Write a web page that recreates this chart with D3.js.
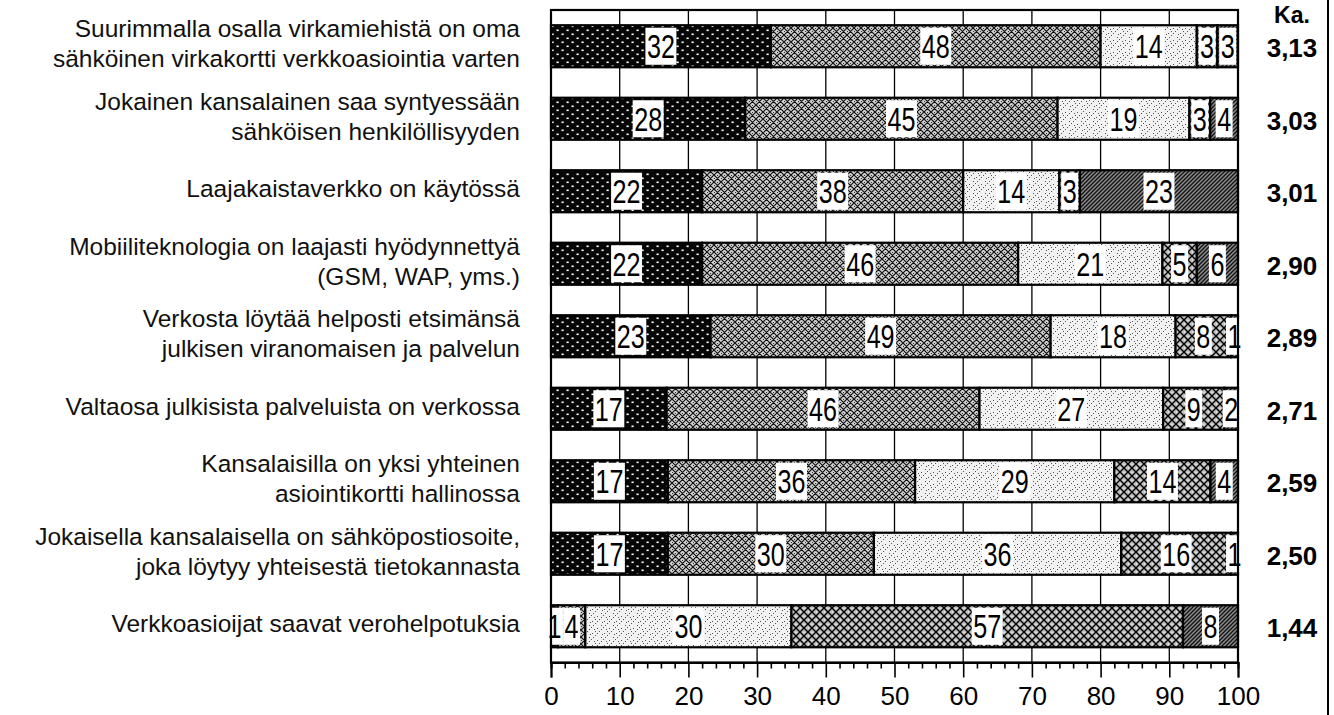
<!DOCTYPE html>
<html><head><meta charset="utf-8">
<script src="https://cdn.jsdelivr.net/npm/d3@7"></script>
<style>body{margin:0;background:#fff;} svg{display:block;}</style>
</head><body>
<svg id="chart" width="1334" height="715"></svg>
<script>
// ---- data ----
const statements = [
  ["Suurimmalla osalla virkamiehistä on oma", "sähköinen virkakortti verkkoasiointia varten"],
  ["Jokainen kansalainen saa syntyessään", "sähköisen henkilöllisyyden"],
  ["Laajakaistaverkko on käytössä"],
  ["Mobiiliteknologia on laajasti hyödynnettyä", "(GSM, WAP, yms.)"],
  ["Verkosta löytää helposti etsimänsä", "julkisen viranomaisen ja palvelun"],
  ["Valtaosa julkisista palveluista on verkossa"],
  ["Kansalaisilla on yksi yhteinen", "asiointikortti hallinossa"],
  ["Jokaisella kansalaisella on sähköpostiosoite,", "joka löytyy yhteisestä tietokannasta"],
  ["Verkkoasioijat saavat verohelpotuksia"]
];
const responseKeys = ["r1", "r2", "r3", "r4", "r5"];
const r1 = [32, 28, 22, 22, 23, 17, 17, 17, 1];
const r2 = [48, 45, 38, 46, 49, 46, 36, 30, 4];
const r3 = [14, 19, 14, 21, 18, 27, 29, 36, 30];
const r4 = [3, 3, 3, 5, 8, 9, 14, 16, 57];
const r5 = [3, 4, 23, 6, 1, 2, 4, 1, 8];
const means = ["3,13", "3,03", "3,01", "2,90", "2,89", "2,71", "2,59", "2,50", "1,44"];
const meanHeader = "Ka.";
const majorTicks = [0, 10, 20, 30, 40, 50, 60, 70, 80, 90, 100];
const minorTicks = [2, 4, 6, 8, 12, 14, 16, 18, 22, 24, 26, 28, 32, 34, 36, 38, 42, 44, 46, 48,
  52, 54, 56, 58, 62, 64, 66, 68, 72, 74, 76, 78, 82, 84, 86, 88, 92, 94, 96, 98];

const series = {r1, r2, r3, r4, r5};
const rows = statements.map((s, i) => {
  const o = {id: i};
  responseKeys.forEach(k => o[k] = series[k][i]);
  return o;
});

// ---- layout ----
const W = 1334, H = 715;
const plot = {left: 551, right: 1238, top: 10, bottom: 662.5};
const FONT = "'Liberation Sans', Arial, sans-serif";
const svg = d3.select("#chart");
svg.append("rect").attr("width", W).attr("height", H).attr("fill", "#fff");

// ---- patterns ----
const defs = svg.append("defs");
function pat(id, w, h) {
  return defs.append("pattern").attr("id", id).attr("patternUnits", "userSpaceOnUse")
    .attr("width", w).attr("height", h);
}
// p1: black with white dots
let p = pat("p1", 10, 8);
p.append("rect").attr("width", 10).attr("height", 8).attr("fill", "#050505");
p.append("rect").attr("x", 1.5).attr("y", 1.5).attr("width", 2.2).attr("height", 1.6).attr("fill", "#fff");
p.append("rect").attr("x", 6.5).attr("y", 5.5).attr("width", 2.2).attr("height", 1.6).attr("fill", "#fff");
// p2: medium crosshatch
p = pat("p2", 7, 7);
p.append("rect").attr("width", 7).attr("height", 7).attr("fill", "#cfcfcf");
p.append("path").attr("d", "M0,0L7,7M7,0L0,7M-1,6L1,8M6,-1L8,1M-1,1L1,-1M6,8L8,6")
  .attr("stroke", "#111").attr("stroke-width", 1.2);
p.append("rect").attr("x", 3).attr("y", 0).attr("width", 1).attr("height", 1).attr("fill", "#333");
p.append("rect").attr("x", 0).attr("y", 3).attr("width", 1).attr("height", 1).attr("fill", "#333");
// p3: light speckle
p = pat("p3", 12, 12);
p.append("rect").attr("width", 12).attr("height", 12).attr("fill", "#f2f2f2");
[[1,1],[3,3],[1,5],[5,1],[7,7],[9,9],[7,11],[11,7],[4,9],[9,4],[6,5],[2,10]].forEach(([cx, cy]) =>
  p.append("rect").attr("x", cx).attr("y", cy).attr("width", 1).attr("height", 1).attr("fill", "#555"));
// p4: bolder crosshatch
p = pat("p4", 8, 8);
p.append("rect").attr("width", 8).attr("height", 8).attr("fill", "#c0c0c0");
p.append("path").attr("d", "M0,0L8,8M8,0L0,8")
  .attr("stroke", "#000").attr("stroke-width", 1.4);
p.append("rect").attr("x", 3.5).attr("y", 0).attr("width", 1).attr("height", 1).attr("fill", "#fff");
p.append("rect").attr("x", 0).attr("y", 3.5).attr("width", 1).attr("height", 1).attr("fill", "#fff");
// p5: dark diagonal hatch
p = pat("p5", 4, 4);
p.append("rect").attr("width", 4).attr("height", 4).attr("fill", "#8a8a8a");
p.append("path").attr("d", "M-1,5L5,-1M-1,1L1,-1M3,5L5,3")
  .attr("stroke", "#111").attr("stroke-width", 1.3);

const fills = {r1: "url(#p1)", r2: "url(#p2)", r3: "url(#p3)", r4: "url(#p4)", r5: "url(#p5)"};

// ---- scales ----
const y = d3.scaleBand().domain(rows.map(d => d.id)).range([plot.top, plot.bottom])
  .paddingInner(0.42).paddingOuter(0.21);
const xFrac = d3.scaleLinear().domain([0, 1]).range([plot.left, plot.right]);
const xPct = d3.scaleLinear().domain([0, 100]).range([plot.left, plot.right]);
const bw = y.bandwidth();

// ---- gridlines ----
svg.append("g").selectAll("line").data(majorTicks).join("line")
  .attr("x1", d => xPct(d)).attr("x2", d => xPct(d))
  .attr("y1", plot.top).attr("y2", plot.bottom)
  .attr("stroke", "#000").attr("stroke-width", 1.3);

// ---- bars ----
const stacked = d3.stack().keys(responseKeys).offset(d3.stackOffsetExpand)(rows);
const gBars = svg.append("g");
stacked.forEach(layer => {
  gBars.append("g").selectAll("rect").data(layer).join("rect")
    .attr("x", d => xFrac(d[0])).attr("width", d => xFrac(d[1]) - xFrac(d[0]))
    .attr("y", d => y(d.data.id)).attr("height", bw)
    .attr("fill", fills[layer.key]).attr("stroke", "#000").attr("stroke-width", 2.2);
});

// ---- value labels ----
const gLab = svg.append("g");
const sx = 0.74, fs = 34;
stacked.forEach(layer => {
  layer.forEach(d => {
    const v = d.data[layer.key];
    const cx = xFrac((d[0] + d[1]) / 2);
    const cy = y(d.data.id) + bw / 2;
    const txt = String(v);
    const tw = txt.length * 0.556 * fs * sx;
    gLab.append("rect").attr("x", cx - tw / 2 - 1.5).attr("y", y(d.data.id) + 2.5)
      .attr("width", tw + 3).attr("height", bw - 5).attr("fill", "#fff");
    gLab.append("text").attr("transform", `translate(${cx},${cy + 12}) scale(${sx},1)`)
      .attr("text-anchor", "middle").attr("font-family", FONT).attr("font-size", fs)
      .attr("fill", "#000").text(txt);
  });
});

// ---- frame ----
svg.append("rect").attr("x", plot.left).attr("y", plot.top)
  .attr("width", plot.right - plot.left).attr("height", plot.bottom - plot.top)
  .attr("fill", "none").attr("stroke", "#000").attr("stroke-width", 2.2);

// ---- axis ----
const axisG = svg.append("g").attr("transform", `translate(0,${plot.bottom})`);
axisG.call(d3.axisBottom(xPct).tickValues(majorTicks).tickSize(15).tickPadding(9).tickFormat(d3.format("d")));
const minorG = svg.append("g").attr("transform", `translate(0,${plot.bottom})`);
minorG.call(d3.axisBottom(xPct).tickValues(minorTicks).tickSize(6).tickFormat(""));
[axisG, minorG].forEach(g => {
  g.select(".domain").attr("stroke", "#000").attr("stroke-width", 2);
  g.selectAll(".tick line").attr("stroke", "#000").attr("stroke-width", 1.6);
});
axisG.selectAll(".tick text").attr("font-family", FONT).attr("font-size", 26).attr("fill", "#000");

// ---- category labels ----
const gCat = svg.append("g").attr("font-family", FONT).attr("font-size", 24.5).attr("fill", "#111");
statements.forEach((lines, i) => {
  const cy = y(i) + bw / 2;
  const lh = 30;
  const start = cy - (lines.length - 1) * lh / 2 - 2;
  lines.forEach((ln, j) => {
    gCat.append("text").attr("x", 520).attr("y", start + j * lh + 8)
      .attr("text-anchor", "end").text(ln);
  });
});

// ---- means ----
const gMean = svg.append("g").attr("font-family", FONT).attr("font-weight", "bold")
  .attr("font-size", 26).attr("fill", "#000").attr("text-anchor", "middle");
gMean.append("text").attr("x", 1292).attr("y", 23).attr("font-size", 23).text(meanHeader);
means.forEach((m, i) => {
  gMean.append("text").attr("x", 1292).attr("y", y(i) + bw / 2 + 11).text(m);
});
svg.append("line").attr("x1", 1328).attr("x2", 1328).attr("y1", 0).attr("y2", H)
  .attr("stroke", "#000").attr("stroke-width", 2);
</script>
</body></html>
